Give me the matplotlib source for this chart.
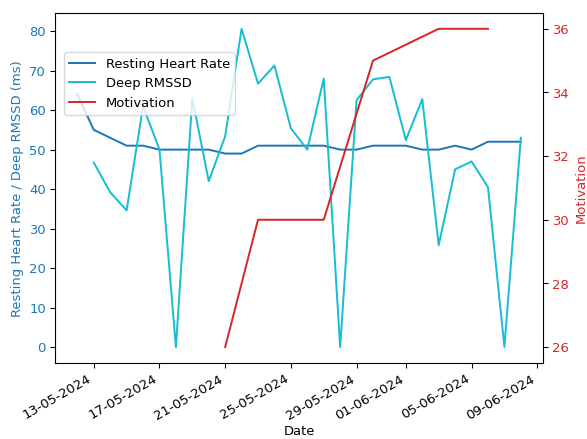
import matplotlib
matplotlib.use('Agg')
import pandas as pd
import matplotlib.pyplot as plt
import matplotlib.dates as mdates

# daily health log
dates = pd.date_range('2024-05-12', '2024-06-08', freq='D')
resting_hr = [64, 55, 53, 51, 51, 50, 50, 50, 50, 49, 49, 51, 51, 51, 51, 51, 50, 50, 51, 51, 51, 50, 50, 51, 50, 52, 52, 52]
deep_rmssd = [None, 46.7, 39.2, 34.6, 61, 50, 0, 63, 42, 53.4, 80.6, 66.7, 71.3, 55.4, 50,
              68, 0, 62.5, 67.8, 68.4, 52.4, 62.8, 25.8, 45, 47, 40.5, 0, 53]

# motivation is only logged on some days
motivation_dates = pd.to_datetime(['2024-05-21', '2024-05-23', '2024-05-27', '2024-05-30',
                                   '2024-06-03', '2024-06-06'])
motivation = [26, 30, 30, 35, 36, 36]

fig, ax1 = plt.subplots(figsize=(6.2, 4.64), dpi=94.68)

l1, = ax1.plot(dates, resting_hr, color='tab:blue', label='Resting Heart Rate')
l2, = ax1.plot(dates, deep_rmssd, color='tab:cyan', label='Deep RMSSD')
ax1.set_xlabel('Date', labelpad=2)
ax1.set_ylabel('Resting Heart Rate / Deep RMSSD (ms)', color='tab:blue')
ax1.tick_params(axis='y', labelcolor='tab:blue')

ax2 = ax1.twinx()
l3, = ax2.plot(motivation_dates, motivation, color='tab:red', label='Motivation')
ax2.set_ylabel('Motivation', color='tab:red')
ax2.tick_params(axis='y', labelcolor='tab:red')

ax1.xaxis.set_major_formatter(mdates.DateFormatter('%d-%m-%Y'))
fig.autofmt_xdate()

fig.subplots_adjust(left=0.094, right=0.925, top=0.970, bottom=0.173)
fig.legend(handles=[l1, l2, l3], loc='upper left', bbox_to_anchor=(0.097, 0.896))

fig.savefig('out.png')
plt.close(fig)
